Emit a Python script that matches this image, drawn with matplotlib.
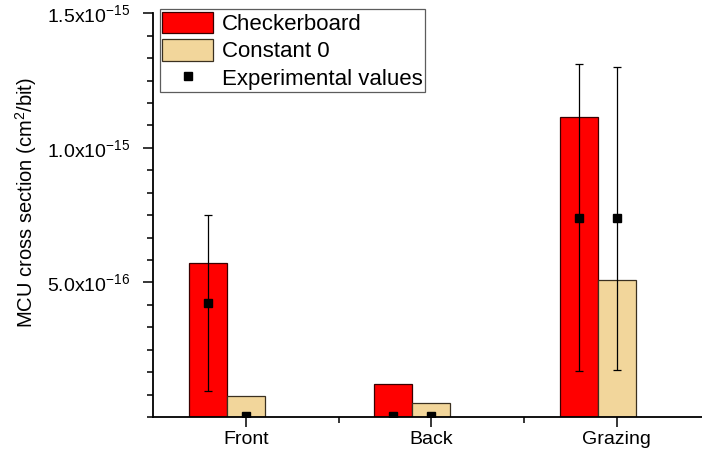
import matplotlib
matplotlib.use("Agg")
import matplotlib.pyplot as plt
from matplotlib.ticker import FixedLocator, MultipleLocator, FixedFormatter
import numpy as np

plt.rcParams['font.family'] = ['Liberation Sans', 'DejaVu Sans']
plt.rcParams['mathtext.default'] = 'regular'

# Data
categories   = ["Front", "Back", "Grazing"]
checkerboard = [5.74e-16, 1.23e-16, 1.113e-15]
constant0    = [0.78e-16, 0.52e-16, 5.08e-16]

# Experimental values at the checkerboard bars and at the constant-0 bars
exp_check      = [4.24e-16, 4e-18, 7.41e-16]
exp_check_low  = [0.98e-16, 4e-18, 1.70e-16]
exp_check_high = [7.50e-16, 4e-18, 1.313e-15]

exp_const      = [3e-18, 3e-18, 7.39e-16]
exp_const_low  = [3e-18, 3e-18, 1.76e-16]
exp_const_high = [3e-18, 3e-18, 1.302e-15]

ytick_vals   = [5e-16, 1e-15, 1.5e-15]
ytick_labels = ["5.0x10$^{-16}$", "1.0x10$^{-15}$", "1.5x10$^{-15}$"]

red = "#FF0000"
tan = "#F2D69B"

fig = plt.figure(figsize=(7.02, 4.53), dpi=100)
ax = fig.add_axes([153 / 702, 36 / 453, 556.5 / 702, 403.7 / 453])

x = np.arange(len(categories))
w = 0.205

b1 = ax.bar(x - w, checkerboard, width=w, color=red, edgecolor="#3a0000",
            linewidth=0.9, label="Checkerboard", zorder=2)
b2 = ax.bar(x, constant0, width=w, color=tan, edgecolor="#3a3020",
            linewidth=0.9, label="Constant 0", zorder=2)

exp_check = np.array(exp_check)
exp_const = np.array(exp_const)
err_c = [exp_check - np.array(exp_check_low), np.array(exp_check_high) - exp_check]
err_k = [exp_const - np.array(exp_const_low), np.array(exp_const_high) - exp_const]

eb = ax.errorbar(x - w, exp_check, yerr=err_c, fmt='s', color='black', ms=6,
                 elinewidth=0.9, capsize=3, capthick=0.9, zorder=3)
ax.errorbar(x, exp_const, yerr=err_k, fmt='s', color='black', ms=6,
            elinewidth=0.9, capsize=3, capthick=0.9, zorder=3)

ax.set_xlim(-0.5, 2.5)
ax.set_ylim(0, 1.5e-15)

ax.xaxis.set_major_locator(FixedLocator(x))
ax.set_xticklabels(categories)
ax.xaxis.set_minor_locator(FixedLocator(x[:-1] + 0.5))

ax.yaxis.set_major_locator(FixedLocator(ytick_vals))
ax.yaxis.set_major_formatter(FixedFormatter(ytick_labels))
ax.yaxis.set_minor_locator(MultipleLocator(5e-16 / 6))

for s in ["top", "right"]:
    ax.spines[s].set_visible(False)
for s in ["left", "bottom"]:
    ax.spines[s].set_linewidth(1.3)

ax.tick_params(axis='both', which='major', length=7, width=1.1,
               labelsize=14, direction='out', pad=3)
ax.tick_params(axis='y', which='major', pad=9)
ax.tick_params(axis='both', which='minor', length=4, width=1.1,
               direction='out')

ax.set_ylabel("MCU cross section (cm$^2$/bit)", fontsize=14.5)
ax.yaxis.set_label_coords(-0.205, 0.53)

leg = ax.legend([b1, b2, eb[0]], ["Checkerboard", "Constant 0", "Experimental values"],
                loc="upper left", bbox_to_anchor=(160 / 702, 1 - 9.3 / 453),
                bbox_transform=fig.transFigure, borderaxespad=0,
                fontsize=16, frameon=True, fancybox=False,
                handlelength=2.3, handleheight=1.1, handletextpad=0.4,
                labelspacing=0.2, borderpad=0.1)
leg.get_frame().set_edgecolor("#333333")
leg.get_frame().set_linewidth(0.9)

fig.savefig("out.png", dpi=100)
